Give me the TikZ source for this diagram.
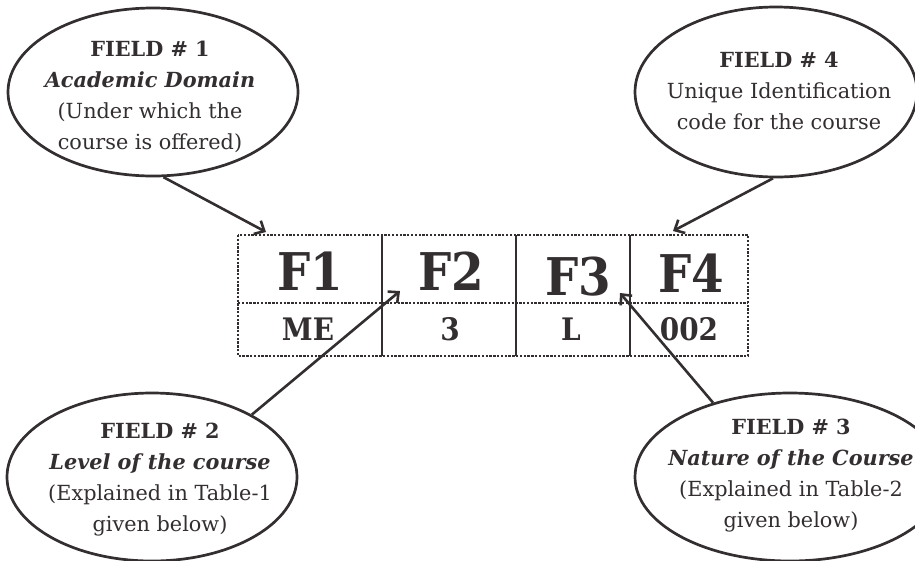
\documentclass[tikz,border=0pt]{standalone}
\usepackage{fontspec}
\setmainfont{DejaVu Serif}
\newfontfamily\condfont{DejaVu Serif Condensed}
\usetikzlibrary{shapes.geometric,arrows.meta}
\definecolor{ink}{HTML}{332E2F}
\tikzset{
 bubble/.style={ellipse,draw=ink,line width=2.7pt,inner sep=0pt},
 btext/.style={align=center,text=ink,inner sep=0pt,font=\fontsize{20.8}{31}\selectfont},
 bigtxt/.style={text=ink,inner sep=0pt,anchor=base,font=\condfont\bfseries\fontsize{52}{52}\selectfont},
 smalltxt/.style={text=ink,inner sep=0pt,anchor=base,font=\condfont\bfseries\fontsize{31}{31}\selectfont},
 gridline/.style={draw=ink,line width=2.5pt,dash pattern=on 2.3pt off 1.5pt},
 sepline/.style={draw=ink,line width=2.4pt},
 pointer/.style={draw=ink,line width=2.6pt,-{Straight Barb[length=8pt,width=15pt]}}
}
\begin{document}
\begin{tikzpicture}[x=1pt,y=-1pt]
\useasboundingbox (0,0) rectangle (915,560);
% bubbles
\node[bubble,minimum width=290pt,minimum height=168pt] (e1) at (153,92) {};
\node[bubble,minimum width=282pt,minimum height=170pt] (e4) at (776,92) {};
\node[bubble,minimum width=290pt,minimum height=168pt] (e2) at (152,477) {};
\node[bubble,minimum width=310pt,minimum height=168pt] (e3) at (790,477) {};
\node[btext] (t1) at (150,97) {\textbf{FIELD \# 1}\\\textbf{\itshape Academic Domain}\\(Under which the\\course is offered)};
\node[btext] (t4) at (779,91) {\textbf{FIELD \# 4}\\Unique Identification\\code for the course};
\node[btext] (t2) at (160,480) {\textbf{FIELD \# 2}\\\textbf{\itshape Level of the course}\\(Explained in Table-1\\given below)};
\node[btext] (t3) at (791,476) {\textbf{FIELD \# 3}\\\textbf{\itshape Nature of the Course}\\(Explained in Table-2\\given below)};
% table
\coordinate (tl) at (238,235);
\coordinate (br) at (748,356);
\coordinate (ml) at (238,303);
\coordinate (mr) at (748,303);
\draw[gridline] (tl) rectangle (br);
\draw[gridline] (ml) -- (mr);
\coordinate (v1t) at (382,235); \coordinate (v1b) at (382,356);
\coordinate (v2t) at (516,235); \coordinate (v2b) at (516,356);
\coordinate (v3t) at (630,235); \coordinate (v3b) at (630,356);
\draw[sepline] (v1t) -- (v1b);
\draw[sepline] (v2t) -- (v2b);
\draw[sepline] (v3t) -- (v3b);
\node[bigtxt] (f1) at (310,290) {F1};
\node[bigtxt] (f2) at (451,290) {F2};
\node[bigtxt] (f3) at (578,295) {F3};
\node[bigtxt] (f4) at (691,292) {F4};
\node[smalltxt] (c1) at (308,340) {ME};
\node[smalltxt] (c2) at (450,340) {3};
\node[smalltxt] (c3) at (571,340) {L};
\node[smalltxt] (c4) at (689,340) {002};
% arrows
\coordinate (a1) at (266,232);
\coordinate (a4) at (673,231);
\coordinate (a2) at (400,291);
\coordinate (a3) at (620,293);
\draw[pointer] (e1.-83) -- (a1);
\draw[pointer] (e4.-92) -- (a4);
\draw[pointer] (e2.32) -- (a2);
\draw[pointer] (e3.136) -- (a3);
\end{tikzpicture}
\end{document}
